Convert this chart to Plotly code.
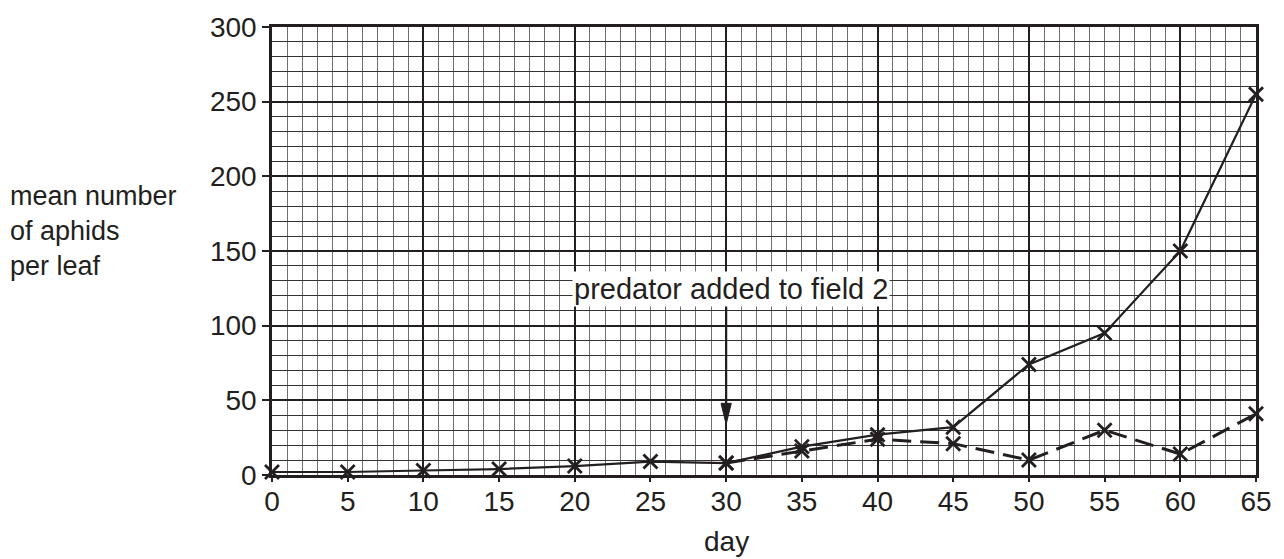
import plotly.graph_objects as go

# Days sampled and mean aphid counts per leaf
days = [0, 5, 10, 15, 20, 25, 30, 35, 40, 45, 50, 55, 60, 65]
field1_aphids = [2, 2, 3, 4, 6, 9, 8, 19, 27, 32, 74, 95, 150, 255]

# Field 2 diverges once the predator is introduced on day 30
field2_days = [30, 35, 40, 45, 50, 55, 60, 65]
field2_aphids = [8, 16, 24, 21, 10, 30, 14, 41]

x_ticks = [0, 5, 10, 15, 20, 25, 30, 35, 40, 45, 50, 55, 60, 65]
y_ticks = [0, 50, 100, 150, 200, 250, 300]

predator_day = 30
arrow_tip = 34
arrow_tail = 114
label_text = "predator added to field 2"

INK = "#231f20"
FONT = "Liberation Sans, Arial, Helvetica, sans-serif"

fig = go.Figure()

# Field 1 (no predator): solid line
fig.add_trace(go.Scatter(
    x=days, y=field1_aphids, mode="lines+markers",
    line=dict(color=INK, width=2.2),
    marker=dict(symbol="x-thin-open", size=14, line=dict(color=INK, width=2.8)),
    showlegend=False, cliponaxis=False,
))

# Field 2 (predator added): dashed line
fig.add_trace(go.Scatter(
    x=field2_days, y=field2_aphids, mode="lines+markers",
    line=dict(color=INK, width=3, dash="19px,9px"),
    marker=dict(symbol="x-thin-open", size=14, line=dict(color=INK, width=2.8)),
    showlegend=False, cliponaxis=False,
))

# Empty trace so the labelled overlay x axis is drawn
fig.add_trace(go.Scatter(x=[], y=[], xaxis="x2", yaxis="y", showlegend=False))

# Arrow marking when the predator was added
head_len = 14
head_half = 0.34
fig.add_shape(type="line", xref="x", yref="y",
              x0=predator_day, x1=predator_day,
              y0=arrow_tail, y1=arrow_tip + head_len * 0.5,
              line=dict(color=INK, width=2.2))
fig.add_shape(type="path", xref="x", yref="y",
              path=(f"M {predator_day - head_half} {arrow_tip + head_len} "
                    f"L {predator_day + head_half} {arrow_tip + head_len} "
                    f"L {predator_day} {arrow_tip} Z"),
              fillcolor=INK, line=dict(color=INK, width=1))

fig.add_annotation(x=predator_day + 0.35, y=124.5, xref="x", yref="y",
                   text=label_text, showarrow=False,
                   font=dict(family=FONT, size=29, color=INK),
                   bgcolor="white", borderpad=1)

# Axis titles
fig.add_annotation(xref="paper", yref="paper", x=-0.268, y=0.545,
                   xanchor="left", yanchor="middle", align="left",
                   text="mean number<br>of aphids<br>per leaf", showarrow=False,
                   font=dict(family=FONT, size=27, color=INK))
fig.add_annotation(xref="x", yref="paper", x=30, y=-0.148,
                   xanchor="center", yanchor="middle",
                   text="day", showarrow=False,
                   font=dict(family=FONT, size=28, color=INK))

fig.update_layout(
    width=1284, height=559,
    margin=dict(l=272, r=28, t=22, b=84),
    paper_bgcolor="white", plot_bgcolor="white",
    font=dict(family=FONT, color=INK),
    xaxis=dict(
        range=[0, 65], dtick=10, tick0=0,
        showgrid=True, gridcolor=INK, gridwidth=2,
        minor=dict(dtick=1, showgrid=True, gridcolor="#707070", gridwidth=1.3),
        showticklabels=False, ticks="",
        showline=True, linecolor=INK, linewidth=2.6, mirror=True,
        zeroline=False, layer="below traces",
    ),
    xaxis2=dict(
        overlaying="x", anchor="y", side="bottom",
        range=[0, 65], tickvals=x_ticks,
        ticks="outside", ticklen=6, tickwidth=2, tickcolor=INK,
        ticklabelstandoff=-5,
        tickfont=dict(family=FONT, size=28, color=INK),
        showgrid=False, zeroline=False, showline=False,
    ),
    yaxis=dict(
        range=[0, 300], tickvals=y_ticks,
        showgrid=True, gridcolor=INK, gridwidth=1.8,
        minor=dict(dtick=10, tick0=0, showgrid=True, gridcolor="#333333", gridwidth=1.1),
        ticks="outside", ticklen=7, tickwidth=2, tickcolor=INK,
        tickfont=dict(family=FONT, size=28, color=INK),
        showline=True, linecolor=INK, linewidth=2.6, mirror=True,
        zeroline=False,
    ),
)

fig.write_html("out.html")
